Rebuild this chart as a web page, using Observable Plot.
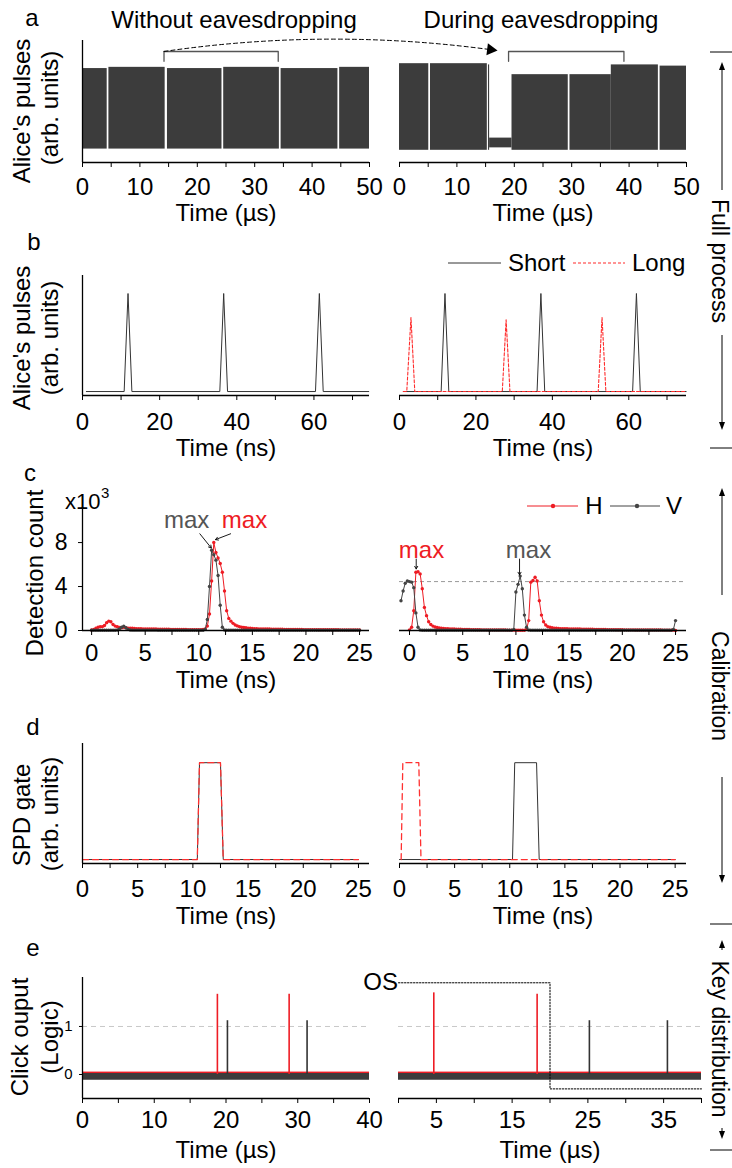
<!DOCTYPE html>
<html><head><meta charset="utf-8">
<script src="https://cdn.jsdelivr.net/npm/d3@7"></script>
<script src="https://cdn.jsdelivr.net/npm/@observablehq/plot@0.6"></script>
<style>
html,body{margin:0;padding:0;background:#fff;}
#fig{position:relative;width:732px;height:1168px;overflow:hidden;background:#fff;font-family:"Liberation Sans",Arial,sans-serif;}
#fig svg{position:absolute;}
</style></head><body><div id="fig"></div>
<script>
// ================= DATA =================
// (a) Alice's pulses (arb. units) – envelope of the dense pulse train, time in µs
const aLeftSegments = [
  {x1:0,    x2:4.3,  lo:1.1, hi:7.7},
  {x1:4.6,  x2:14.4, lo:1.1, hi:7.8},
  {x1:14.8, x2:24.3, lo:1.1, hi:7.7},
  {x1:24.6, x2:34.3, lo:1.1, hi:7.8},
  {x1:34.6, x2:44.5, lo:1.1, hi:7.7},
  {x1:44.8, x2:50,   lo:1.1, hi:7.8}
];
const aRightSegments = [
  {x1:0,    x2:5.1,  lo:1.0, hi:8.1},
  {x1:5.4,  x2:15.3, lo:1.0, hi:8.1},
  {x1:15.5, x2:15.7, lo:1.0, hi:8.0},
  {x1:15.7, x2:19.6, lo:1.2, hi:2.0},
  {x1:19.6, x2:29.4, lo:1.0, hi:7.2},
  {x1:29.7, x2:36.9, lo:1.0, hi:7.2},
  {x1:36.9, x2:45.1, lo:1.0, hi:8.0},
  {x1:45.4, x2:50,   lo:1.0, hi:7.9}
];
const aLeftBracket  = [[14.2,8.3],[14.2,9.1],[34.1,9.1],[34.1,8.3]];
const aRightBracket = [[19.0,8.3],[19.0,9.1],[39.1,9.1],[39.1,8.3]];
const aArrow = [{x1:14.2, y1:9.1, x2:71.1, y2:9.25}];
const aTicks = [0,5,10,15,20,25,30,35,40,45,50];
const aLabels = [0,10,20,30,40,50];

// (b) Alice's pulses, time in ns
const bLeftShort  = [[1.0,0.33],[10.8,0.33],[11.8,8.5],[12.8,0.33],[35.6,0.33],[36.6,8.5],[37.6,0.33],[60.4,0.33],[61.4,8.5],[62.4,0.33],[74.2,0.33]];
const bRightShort = [[1.0,0.33],[10.9,0.33],[11.9,8.5],[12.9,0.33],[36.0,0.33],[37.0,8.5],[38.0,0.33],[61.0,0.33],[62.0,8.5],[63.0,0.33],[75.0,0.33]];
const bRightLong  = [[1.0,0.33],[1.9,0.33],[3.0,6.5],[4.0,0.33],[26.9,0.33],[27.9,6.3],[28.9,0.33],[52.0,0.33],[53.0,6.5],[54.0,0.33],[75.0,0.33]];
const bTicks = [0,10,20,30,40,50,60,70];
const bLabels = [0,20,40,60];

// (c) Detection count (x10^3), sampled every 0.2 ns
const cStep = 0.2;
const cLeftT0 = 0;
const cLeftH = [
  0.05,0.1,0.2,0.3,0.35,0.35,0.45,0.7,0.85,0.8,0.55,0.4,0.35,0.28,0.25,0.3,0.25,0.22,0.2,0.2,0.18,0.17,0.17,0.16,0.15,0.15,
  0.14,0.14,0.13,0.13,0.13,0.12,0.12,0.12,0.11,0.11,0.11,0.1,0.1,0.1,0.1,0.09,0.09,0.09,0.09,0.08,0.08,0.08,0.08,0.08,0.08,
  0.08,0.1,0.15,0.4,1.5,4.5,8.0,7.1,6.6,6.1,5.3,3.6,1.8,1.1,0.85,0.65,0.5,0.42,0.35,0.3,0.27,0.25,0.22,0.2,0.18,
  0.17,0.16,0.15,0.15,0.14,0.14,0.13,0.13,0.12,0.12,0.12,0.11,0.11,0.11,0.1,0.1,0.1,0.1,0.09,0.09,
  0.09,0.09,0.09,0.08,0.08,0.08,0.08,0.08,0.08,0.08,0.07,0.07,0.07,0.07,0.07,0.07,0.07,0.07,0.07,0.07,
  0.06,0.06,0.06,0.06,0.06,0.06,0.06,0.06,0.06,0.06
];
const cLeftV = [
  0.02,0.02,0.02,0.02,0.02,0.02,0.02,0.02,0.02,0.02,0.02,0.02,
  0.05,0.15,0.3,0.4,0.25,0.1,0.05,
  0.03,0.03,0.03,0.03,0.03,0.03,0.03,0.03,0.03,0.03,0.03,0.03,0.02,0.02,0.02,0.02,0.02,0.02,0.02,0.02,0.02,0.02,0.02,0.02,0.02,0.02,0.02,0.02,0.02,0.02,0.02,0.02,0.02,0.02,
  0.1,1.0,4.0,7.3,6.9,6.4,5.0,2.3,0.3,0.05,
  0.02,0.02,0.02,0.02,0.02,0.02,0.02,0.02,0.02,0.02,0.02,0.02,0.02,0.02,0.02,0.02,0.02,0.02,0.02,0.02,0.02,
  0.02,0.02,0.02,0.02,0.02,0.02,0.02,0.02,0.02,0.02,0.02,0.02,0.02,0.02,0.02,0.02,0.02,0.02,0.02,0.02,0.02,
  0.02,0.02,0.02,0.02,0.02,0.02,0.02,0.02,0.02,0.02,0.02,0.02,0.02,0.02,0.02,0.02,0.02,0.02,0.02,0.02,0.02
];
const cRightHT0 = 0;
const cRightH = [
  0.06,0.3,1.8,5.3,5.35,5.15,3.8,2.1,1.35,0.8,0.55,0.4,0.32,0.27,0.23,0.2,
  0.18,0.17,0.16,0.15,0.14,0.13,0.12,0.12,0.11,0.1,0.1,0.09,0.09,0.08,0.08,0.07,0.07,0.07,0.06,0.06,
  0.06,0.05,0.05,0.05,0.05,0.04,0.04,0.04,0.04,0.04,0.03,0.03,0.03,0.03,0.03,
  0.02,0.02,0.02,0.02,0.1,0.9,4.4,4.55,4.85,4.5,2.7,1.4,0.8,0.5,0.35,0.3,0.25,0.22,0.2,0.18,
  0.17,0.17,0.16,0.16,0.15,0.15,0.14,0.14,0.13,0.13,0.12,0.12,0.12,0.11,0.11,0.11,0.1,0.1,0.1,0.09,
  0.09,0.09,0.08,0.08,0.08,0.08,0.07,0.07,0.07,0.07,0.06,0.06,0.06,0.06,0.06,0.05,0.05,0.05,0.05,0.05,
  0.05,0.04,0.04,0.04,0.04,0.04,0.04,0.04,0.03,0.03,0.03,0.03,0.03,0.03,
  0.0
];
const cRightVT0 = -0.8;
const cRightV = [
  2.7,3.6,4.3,4.5,4.45,4.4,3.9,1.6,0.3,0.05,
  0.02,0.02,0.02,0.02,0.02,0.02,0.02,0.02,0.02,0.02,0.02,0.02,0.02,0.02,0.02,0.02,0.02,0.02,0.02,0.02,0.02,0.02,
  0.02,0.02,0.02,0.02,0.02,0.02,0.02,0.02,0.02,0.02,0.02,0.02,0.02,0.02,0.02,0.02,0.02,0.02,0.02,0.02,0.02,
  0.1,3.5,4.2,4.95,3.8,1.4,0.3,0.05,
  0.02,0.02,0.02,0.02,0.02,0.02,0.02,0.02,0.02,0.02,0.02,0.02,0.02,0.02,0.02,0.02,0.02,0.02,0.02,0.02,0.02,0.02,
  0.02,0.02,0.02,0.02,0.02,0.02,0.02,0.02,0.02,0.02,0.02,0.02,0.02,0.02,0.02,0.02,0.02,0.02,0.02,0.02,0.02,0.02,
  0.02,0.02,0.02,0.02,0.02,0.02,0.02,0.02,0.02,0.02,0.02,0.02,0.02,0.02,0.02,0.02,0.02,0.02,0.02,0.02,0.02,0.02,0.02,
  0.1,0.9
];
const cRightThreshold = 4.45;
const cLeftMax  = [{label:"max", color:"gray", tx:8.86, ty:10.0, x1:10.1, y1:8.8, x2:11.17, y2:7.5},
                   {label:"max", color:"red",  tx:14.27, ty:10.0, x1:12.97, y1:8.8, x2:11.56, y2:8.27}];
const cRightMax = [{label:"max", color:"red",  tx:1.13, ty:7.27, x1:0.63, y1:6.5, x2:0.63, y2:5.6},
                   {label:"max", color:"gray", tx:11.18, ty:7.27, x1:10.34, y1:6.5, x2:10.34, y2:5.06}];
const cTicks = [0,2.5,5,7.5,10,12.5,15,17.5,20,22.5,25];
const cLabels = [0,5,10,15,20,25];
const cYTicks = [0,4,8];

// (d) SPD gate (arb. units), time in ns
const dLeftV  = [[0,0.33],[10.4,0.33],[10.6,8.4],[12.5,8.4],[12.75,0.33],[25,0.33]];
const dLeftH  = [[0,0.33],[10.4,0.33],[10.6,8.4],[12.5,8.4],[12.75,0.33],[25,0.33]];
const dRightV = [[0,0.33],[10.25,0.33],[10.45,8.4],[12.43,8.4],[12.67,0.33],[25,0.33]];
const dRightH = [[0.15,0.33],[0.3,8.4],[1.75,8.4],[1.95,0.33],[25,0.33]];
const dTicks = cTicks;
const dLabels = cLabels;

// (e) Click output (logic), time in µs
const eNoise = [{series:"H", lo:0.0, hi:0.05}, {series:"V", lo:-0.12, hi:0.02}];
const eLeftClicksH  = [{t:18.8, v:1.67}, {t:28.8, v:1.67}];
const eLeftClicksV  = [{t:20.2, v:1.12}, {t:31.3, v:1.12}];
const eRightClicksH = [{t:4.66, v:1.70}, {t:18.3, v:1.67}];
const eRightClicksV = [{t:25.2, v:1.12}, {t:35.5, v:1.12}];
const eLogicOne = 1;
const eOS = [[0,1.91],[20,1.91],[20,-0.3],[40,-0.3]];
const eTicks = [0,5,10,15,20,25,30,35,40];
const eLeftLabels = [0,10,20,30,40];
const eRightLabels = [5,15,25,35];
const eYTicks = [0,1];

// ================= DRAWING =================
const FONT = '"Liberation Sans", Arial, Helvetica, sans-serif';
const RED = "#ee1c24", DARK = "#3c3c3c", GRAY = "#555";
const fig = document.getElementById("fig");

function panel({frame:[L,R,T,B], x, y, marks, ticks, labels, tickPad=10, yAxisMarks=null}) {
  const mL=70, mR=30, mT=30, mB=50;
  const p = Plot.plot({
    width:(R-L)+mL+mR, height:(B-T)+mT+mB,
    marginLeft:mL, marginRight:mR, marginTop:mT, marginBottom:mB,
    x:{domain:x, label:null}, y:{domain:y, label:null, axis:null},
    style:{background:"transparent", overflow:"visible", fontFamily:FONT, fontSize:"24px", color:"#000"},
    marks:[
      ...marks,
      Plot.ruleY([y[0]], {stroke:"#000", strokeWidth:1.3}),
      ...(yAxisMarks ? [Plot.ruleX([x[0]], {stroke:"#000", strokeWidth:1.3}), ...yAxisMarks] : []),
      Plot.axisX(ticks, {tickSize:5, tickPadding:tickPad, label:null, fontSize:24,
        tickFormat:d => labels.includes(d) ? String(d) : ""})
    ]
  });
  p.style.left = (L-mL)+"px"; p.style.top = (T-mT)+"px";
  fig.appendChild(p);
}
const series = (vals, t0) => vals.map((v,i) => ({t:+(t0 + i*cStep).toFixed(2), v}));
const maxMarks = (arr) => [
  Plot.text(arr, {x:"tx", y:"ty", text:"label", fill:d => d.color==="red" ? RED : GRAY, fontSize:24}),
  Plot.arrow(arr, {x1:"x1", y1:"y1", x2:"x2", y2:"y2", stroke:"#000", strokeWidth:0.9, headLength:5})
];

// ---- a ----
panel({frame:[82,369,40,162], x:[0,50], y:[0,10], ticks:aTicks, labels:aLabels, tickPad:10, yAxisMarks:[],
  marks:[
    Plot.rect(aLeftSegments, {x1:"x1", x2:"x2", y1:"lo", y2:"hi", fill:DARK}),
    Plot.line(aLeftBracket, {stroke:GRAY, strokeWidth:1.3}),
    Plot.arrow(aArrow, {x1:"x1", y1:"y1", x2:"x2", y2:"y2", bend:8, headLength:0, stroke:"#000", strokeWidth:1, strokeDasharray:"4,3"}),
    Plot.dot(aArrow, {x:"x2", y:"y2", symbol:"triangle", r:4.5, fill:"#000", stroke:null, rotate:97})
  ]});
panel({frame:[399,686,40,162], x:[0,50], y:[0,10], ticks:aTicks, labels:aLabels, tickPad:10,
  marks:[
    Plot.rect(aRightSegments, {x1:"x1", x2:"x2", y1:"lo", y2:"hi", fill:DARK}),
    Plot.line(aRightBracket, {stroke:GRAY, strokeWidth:1.3})
  ]});

// ---- b ----
panel({frame:[82,369,275,395], x:[0,74.4], y:[0,10], ticks:bTicks, labels:bLabels, tickPad:12, yAxisMarks:[],
  marks:[ Plot.line(bLeftShort, {stroke:"#333", strokeWidth:1}) ]});
panel({frame:[399,686,275,395], x:[0,75.1], y:[0,10], ticks:bTicks, labels:bLabels, tickPad:12,
  marks:[
    Plot.line(bRightShort, {stroke:"#333", strokeWidth:1}),
    Plot.line(bRightLong, {stroke:"#ff2a2a", strokeWidth:1.1, strokeDasharray:"3,2"})
  ]});

// ---- c ----
panel({frame:[82,369,508,630], x:[-0.85,25.93], y:[0,11.1], ticks:cTicks, labels:cLabels, tickPad:8,
  yAxisMarks:[Plot.axisY(cYTicks, {tickSize:4, tickPadding:11, fontSize:23, label:null})],
  marks:[
    Plot.line(series(cLeftH, cLeftT0), {x:"t", y:"v", stroke:RED, strokeWidth:1}),
    Plot.dot(series(cLeftH, cLeftT0), {x:"t", y:"v", fill:RED, r:1.7}),
    Plot.line(series(cLeftV, cLeftT0), {x:"t", y:"v", stroke:"#444", strokeWidth:1}),
    Plot.dot(series(cLeftV, cLeftT0), {x:"t", y:"v", fill:"#444", r:1.7}),
    ...maxMarks(cLeftMax)
  ]});
panel({frame:[399,686,508,630], x:[-0.94,26.03], y:[0,11.1], ticks:cTicks, labels:cLabels, tickPad:8,
  marks:[
    Plot.ruleY([cRightThreshold], {stroke:"#999", strokeWidth:1, strokeDasharray:"4,3"}),
    Plot.line(series(cRightH, cRightHT0), {x:"t", y:"v", stroke:RED, strokeWidth:1}),
    Plot.dot(series(cRightH, cRightHT0), {x:"t", y:"v", fill:RED, r:1.7}),
    Plot.line(series(cRightV, cRightVT0), {x:"t", y:"v", stroke:"#444", strokeWidth:1}),
    Plot.dot(series(cRightV, cRightVT0), {x:"t", y:"v", fill:"#444", r:1.7}),
    ...maxMarks(cRightMax)
  ]});

// ---- d ----
panel({frame:[82,369,743,863], x:[0,26.0], y:[0,10], ticks:dTicks, labels:dLabels, tickPad:11, yAxisMarks:[],
  marks:[
    Plot.line(dLeftV, {stroke:"#333", strokeWidth:1}),
    Plot.line(dLeftH, {stroke:"#ff3030", strokeWidth:1.3, strokeDasharray:"6,4"})
  ]});
panel({frame:[399,686,743,863], x:[0,26.03], y:[0,10], ticks:dTicks, labels:dLabels, tickPad:11,
  marks:[
    Plot.line(dRightV, {stroke:"#333", strokeWidth:1}),
    Plot.line(dRightH, {stroke:"#ff3030", strokeWidth:1.3, strokeDasharray:"6,4"})
  ]});

// ---- e ----
const eMarks = (clH, clV) => [
  Plot.ruleY([eLogicOne], {stroke:"#c8c8c8", strokeWidth:1, strokeDasharray:"5,4"}),
  Plot.rect(eNoise.filter(d => d.series==="H"), {x1:0, x2:40, y1:"lo", y2:"hi", fill:RED}),
  Plot.rect(eNoise.filter(d => d.series==="V"), {x1:0, x2:40, y1:"lo", y2:"hi", fill:DARK}),
  Plot.ruleX(clH, {x:"t", y1:0, y2:"v", stroke:RED, strokeWidth:1.6}),
  Plot.ruleX(clV, {x:"t", y1:0, y2:"v", stroke:"#333", strokeWidth:1.6})
];
panel({frame:[82,369,977,1098], x:[0,40], y:[-0.5,2.02], ticks:eTicks, labels:eLeftLabels, tickPad:7,
  yAxisMarks:[Plot.axisY(eYTicks, {tickSize:3, tickPadding:7, fontSize:15, label:null})],
  marks:eMarks(eLeftClicksH, eLeftClicksV)});
panel({frame:[398,701,977,1098], x:[0,40], y:[-0.5,2.02], ticks:eTicks, labels:eRightLabels, tickPad:7,
  marks:[...eMarks(eRightClicksH, eRightClicksV),
    Plot.line(eOS, {stroke:"#000", strokeWidth:1, strokeDasharray:"1.5,1.5"})]});

// ================= TEXT & SIDE ANNOTATIONS =================
const ov = d3.select(fig).append("svg").attr("width",732).attr("height",1168)
  .style("left","0px").style("top","0px").style("overflow","visible")
  .style("font-family", FONT);
function T(x, y, s, {size=24, anchor="middle", fill="#000", rotate=0}={}) {
  ov.append("text").attr("transform",`translate(${x},${y}) rotate(${rotate})`)
    .attr("text-anchor",anchor).attr("dy","0.35em").attr("font-size",size).attr("fill",fill).text(s);
}
// panel letters
[["a",32,18],["b",34,242],["c",30,473],["d",33,727],["e",33,948]].forEach(([s,x,y]) => T(x,y,s));
// titles
T(234,20,"Without eavesdropping"); T(541,20,"During eavesdropping");
// x-axis titles
[[213,"Time (µs)"],[448,"Time (ns)"],[680,"Time (ns)"],[916,"Time (ns)"],[1150,"Time (µs)"]].forEach(([y,s]) => {
  T(226,y,s); T(y===1150?550:543,y,s);
});
// y-axis titles
T(22,111,"Alice's pulses",{rotate:-90}); T(50,108,"(arb. units)",{rotate:-90});
T(22,338,"Alice's pulses",{rotate:-90}); T(50,338,"(arb. units)",{rotate:-90});
T(35,573,"Detection count",{rotate:-90});
T(22,815,"SPD gate",{rotate:-90}); T(50,814,"(arb. units)",{rotate:-90});
T(20,1037,"Click ouput",{rotate:-90}); T(50,1037,"(Logic)",{rotate:-90});
// x10^3
T(65,501,"x10",{size:22, anchor:"start"}); T(101,493,"3",{size:15, anchor:"start"});
// legend b
ov.append("line").attr("x1",448).attr("x2",501).attr("y1",263).attr("y2",263).attr("stroke","#333").attr("stroke-width",1);
T(508,263,"Short",{anchor:"start"});
ov.append("line").attr("x1",573).attr("x2",625).attr("y1",263).attr("y2",263).attr("stroke","#ff2a2a").attr("stroke-width",1.1).attr("stroke-dasharray","3,2");
T(632,263,"Long",{anchor:"start"});
// legend c
ov.append("line").attr("x1",527).attr("x2",578).attr("y1",506).attr("y2",506).attr("stroke",RED);
ov.append("circle").attr("cx",553).attr("cy",506).attr("r",2.2).attr("fill",RED);
T(594,506,"H");
ov.append("line").attr("x1",610).attr("x2",660).attr("y1",506).attr("y2",506).attr("stroke","#444");
ov.append("circle").attr("cx",637).attr("cy",506).attr("r",2.2).attr("fill","#444");
T(674,506,"V");
// OS
T(398,982,"OS",{anchor:"end"});
// right-side process annotations
const SX = 722;
[52,448,924,1150].forEach(y => ov.append("line").attr("x1",710).attr("x2",732).attr("y1",y).attr("y2",y).attr("stroke","#000").attr("stroke-width",1));
function vArrow(y1, y2) { // y2 = tip
  const dir = Math.sign(y2 - y1);
  ov.append("line").attr("x1",SX).attr("x2",SX).attr("y1",y1).attr("y2",y2 - dir*6).attr("stroke","#000").attr("stroke-width",1);
  ov.append("path").attr("d",`M${SX},${y2} L${SX-3},${y2-dir*8} L${SX+3},${y2-dir*8} Z`).attr("fill","#000");
}
vArrow(190,62); vArrow(335,430);
vArrow(595,488); vArrow(777,883);
vArrow(950,940); vArrow(1128,1139);
T(720,261,"Full process",{rotate:90, size:23});
T(720,686,"Calibration",{rotate:90, size:23});
T(720,1039,"Key distribution",{rotate:90, size:23});
</script></body></html>
